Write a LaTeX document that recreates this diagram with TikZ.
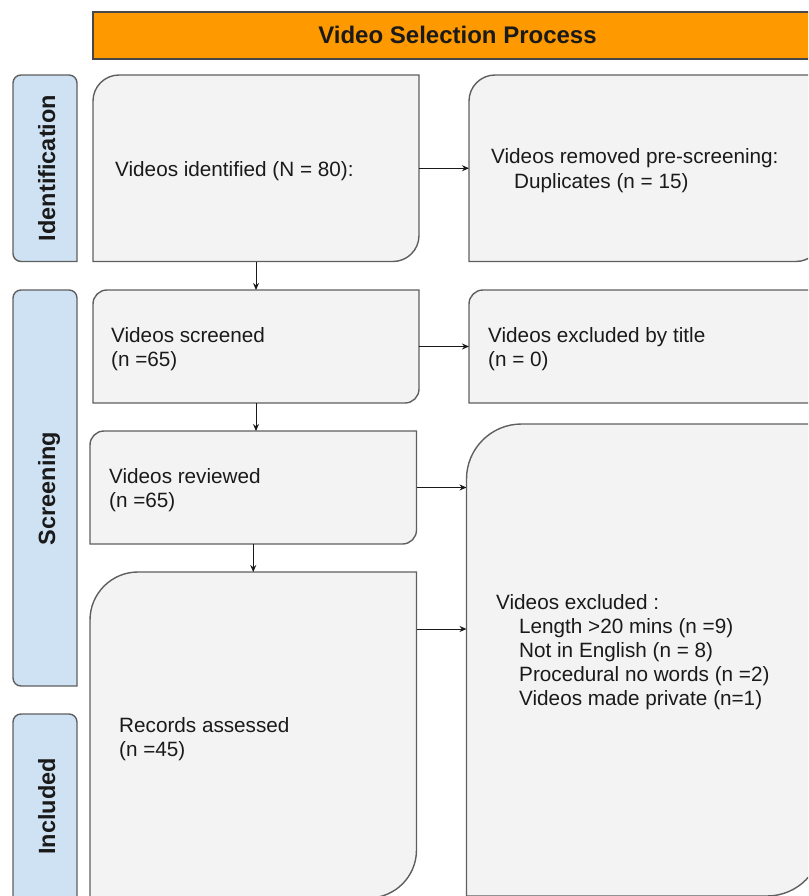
\documentclass[tikz,border=0pt]{standalone}
\usepackage{fontspec}
\setmainfont{Liberation Sans}
\usetikzlibrary{arrows.meta,fit}
\definecolor{orng}{HTML}{FF9900}
\definecolor{lblue}{HTML}{CFE2F3}
\definecolor{boxgray}{HTML}{F3F3F3}
\definecolor{edge}{HTML}{5F5F5F}
\definecolor{ink}{HTML}{1A1A1A}
% box with rounded top-left and bottom-right corners
\newcommand\rdbox[2]{\draw[boxline] (#1.north east) -- ([yshift=#2]#1.south east) arc[start angle=0,end angle=-90,radius=#2] -- (#1.south west) -- ([yshift=-#2]#1.north west) arc[start angle=180,end angle=90,radius=#2] -- cycle;}
% label with three rounded corners
\newcommand\lbbox[2]{\draw[lblline] (#1.south east) -- ([yshift=-#2]#1.north east) arc[start angle=0,end angle=90,radius=#2] -- ([xshift=#2]#1.north west) arc[start angle=90,end angle=180,radius=#2] -- ([yshift=#2]#1.south west) arc[start angle=180,end angle=270,radius=#2] -- cycle;}
\begin{document}
\begin{tikzpicture}[x=1pt,y=1pt,
  frame/.style={inner sep=0pt,outer sep=0pt},
  boxline/.style={fill=boxgray,draw=edge,line width=1.4pt},
  lblline/.style={fill=lblue,draw=edge,line width=1.4pt},
  txt/.style={anchor=base west,inner sep=0pt,text=ink,font=\fontsize{20.7}{24}\selectfont},
  lbltxt/.style={anchor=base,rotate=90,inner sep=0pt,text=ink,font=\bfseries\fontsize{23.5}{28}\selectfont},
  titlebar/.style={fill=orng,draw=ink!80,line width=1.2pt,inner sep=0pt,outer sep=0pt,text=ink,
     font=\bfseries\fontsize{24}{28}\selectfont,text height=17pt,text depth=0pt,
     minimum width=729pt,minimum height=47pt},
  arr/.style={draw=ink,line width=1pt,-{Stealth[length=7pt,width=6pt]}}]
\useasboundingbox (0,0) rectangle (808,-896);
\clip (0,0) rectangle (808,-896);

% title
\node[titlebar] (title) at (457.5,-35.5) {Video Selection Process};

% phase labels
\node[frame,fit={(13,-75) (77,-261.5)}] (lid) {};
\lbbox{lid}{8pt}
\node[lbltxt] (tid) at (55,-168) {Identification};

\node[frame,fit={(13,-290) (77,-686)}] (lsc) {};
\lbbox{lsc}{8pt}
\node[lbltxt] (tsc) at (55,-488.5) {Screening};

\node[frame,fit={(13,-714) (77,-912)}] (lin) {};
\lbbox{lin}{8pt}
\node[lbltxt] (tin) at (55,-806.5) {Included};

% boxes
\node[frame,fit={(93,-75) (419,-261.5)}] (b1) {};
\rdbox{b1}{26pt}
\node[frame,fit={(469,-75) (822,-261.5)}] (b2) {};
\rdbox{b2}{26pt}
\node[frame,fit={(93,-290) (419,-403)}] (b3) {};
\rdbox{b3}{14pt}
\node[frame,fit={(469,-290) (822,-403)}] (b4) {};
\rdbox{b4}{14pt}
\node[frame,fit={(90,-431) (416.5,-544)}] (b5) {};
\rdbox{b5}{14pt}
\node[frame,fit={(466.5,-424) (822,-896)}] (b6) {};
\rdbox{b6}{55pt}
\node[frame,fit={(90,-572) (416.5,-898)}] (b7) {};
\rdbox{b7}{48pt}

% texts
\node[txt] (t1) at (115,-176) {Videos identified (N = 80):};
\node[txt] (t2a) at (491,-164) {Videos removed pre-screening:};
\node[txt] (t2b) at (514,-189) {Duplicates (n = 15)};
\node[txt] (t3a) at (111,-342) {Videos screened};
\node[txt] (t3b) at (111,-366) {(n =65)};
\node[txt] (t4a) at (488,-342) {Videos excluded by title};
\node[txt] (t4b) at (488,-366) {(n = 0)};
\node[txt] (t5a) at (109,-483) {Videos reviewed};
\node[txt] (t5b) at (109,-507) {(n =65)};
\node[txt] (t6a) at (496,-609) {Videos excluded :};
\node[txt] (t6b) at (519,-633) {Length >20 mins (n =9)};
\node[txt] (t6c) at (519,-657) {Not in English (n = 8)};
\node[txt] (t6d) at (519,-681) {Procedural no words (n =2)};
\node[txt] (t6e) at (519,-705) {Videos made private (n=1)};
\node[txt] (t7a) at (119,-732) {Records assessed};
\node[txt] (t7b) at (119,-756) {(n =45)};

% connectors
\draw[arr] (b1.south) -- (b3.north);
\draw[arr] (b1.east) -- (b2.west);
\draw[arr] (b3.east) -- (b4.west);
\draw[arr] (b3.south) -- (b3.south |- b5.north);
\draw[arr] (b5.south) -- (b7.north);
\draw[arr] (b5.east) -- (b5.east -| b6.west);
\coordinate (c7) at ([yshift=106pt]b7.east);
\draw[arr] (c7) -- (c7 -| b6.west);
\end{tikzpicture}
\end{document}
